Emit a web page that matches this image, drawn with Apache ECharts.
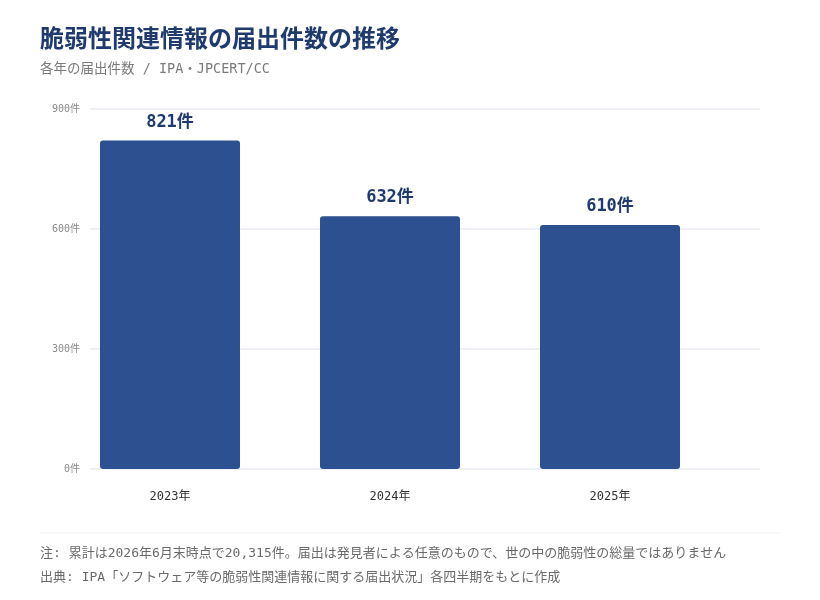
<!DOCTYPE html>
<html>
<head>
<meta charset="utf-8">
<script src="https://cdn.jsdelivr.net/npm/echarts@6/dist/echarts.min.js"></script>
<style>
html, body { margin: 0; padding: 0; background: #fff; }
#main { width: 820px; height: 600px; }
</style>
</head>
<body>
<div id="main"></div>
<script>
var years = ['2023年', '2024年', '2025年'];
var counts = [821, 632, 610];
var yTicks = [0, 300, 600, 900];

var mono = "'DejaVu Sans Mono', 'Noto Sans CJK JP', monospace";
var navy = '#1f3a6e';
var barColor = '#2d5090';

var myChart = echarts.init(document.getElementById('main'));
var option = {
    backgroundColor: '#fff',
    title: [
        {
            text: '脆弱性関連情報の届出件数の推移',
            left: 35, top: 21,
            textStyle: { fontFamily: "'Noto Sans CJK JP', sans-serif", fontSize: 24, fontWeight: 'bold', color: navy }
        },
        {
            text: '各年の届出件数 / IPA・JPCERT/CC',
            left: 35, top: 58,
            textStyle: { fontFamily: mono, fontSize: 13.5, fontWeight: 'normal', color: '#7a7a7a' }
        },
        {
            text: '注: 累計は2026年6月末時点で20,315件。届出は発見者による任意のもので、世の中の脆弱性の総量ではありません',
            left: 35, top: 542,
            textStyle: { fontFamily: mono, fontSize: 13, fontWeight: 'normal', color: '#6a6a6a' }
        },
        {
            text: '出典: IPA「ソフトウェア等の脆弱性関連情報に関する届出状況」各四半期をもとに作成',
            left: 35, top: 566,
            textStyle: { fontFamily: mono, fontSize: 13, fontWeight: 'normal', color: '#6a6a6a' }
        }
    ],
    graphic: [
        { type: 'line', shape: { x1: 40, y1: 533, x2: 780, y2: 533 }, style: { stroke: '#eef0f4', lineWidth: 1 } }
    ],
    grid: [
        { left: 60, right: 100, top: 109, bottom: 131 },
        { left: 90, right: 60, top: 109, bottom: 131 }
    ],
    xAxis: [
        {
            type: 'category', gridIndex: 0, data: years,
            axisLine: { show: false }, axisTick: { show: false },
            axisLabel: { margin: 22, fontFamily: mono, fontSize: 12, color: '#333' }
        },
        {
            type: 'category', gridIndex: 1, data: years, show: false
        }
    ],
    yAxis: [
        {
            type: 'value', gridIndex: 0, min: 0, max: 900, interval: 300, show: false
        },
        {
            type: 'value', gridIndex: 1, min: 0, max: 900, interval: 300,
            axisLine: { show: false }, axisTick: { show: false },
            axisLabel: {
                margin: 10, fontFamily: mono, fontSize: 10, color: '#8a8a8a',
                formatter: function (v) { return yTicks.indexOf(v) >= 0 ? v + '件' : ''; }
            },
            splitLine: { lineStyle: { color: '#eef0f5', width: 2 } }
        }
    ],
    series: [
        {
            type: 'bar', xAxisIndex: 0, yAxisIndex: 0,
            data: counts, barWidth: 140, z: 5,
            itemStyle: { color: barColor, borderRadius: 3 },
            label: {
                show: true, position: 'top', distance: 10,
                formatter: '{c}件',
                fontFamily: mono, fontSize: 17, fontWeight: 'bold', color: navy
            }
        }
    ]
};
myChart.setOption(option);
</script>
</body>
</html>
